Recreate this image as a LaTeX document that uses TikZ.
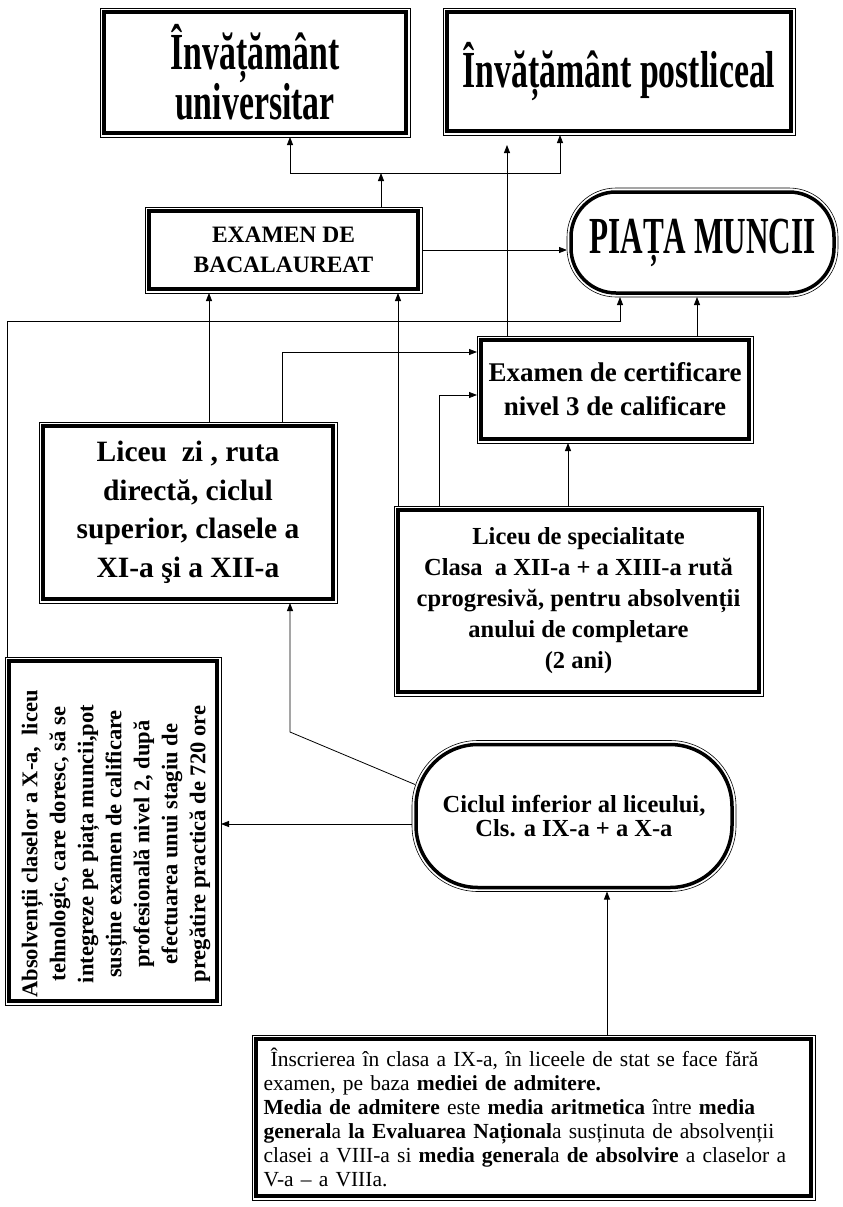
\documentclass[tikz,border=0pt]{standalone}
\usepackage{fontspec}
\setmainfont{Liberation Serif}
\newfontfamily\titlefont{Liberation Serif}[FakeStretch=0.65]
\newfontfamily\piatafont{Liberation Serif}[FakeStretch=0.6]
\usetikzlibrary{arrows.meta}

\begin{document}
\begin{tikzpicture}[x=1pt,y=-1pt,
    box/.style={draw,line width=3.5pt,inner sep=0pt,outer sep=4pt,align=center},
    frame/.style={line width=0.6pt},
    arr/.style={line width=0.8pt,-{Triangle[length=8pt,width=6pt]}}]
  \useasboundingbox (0,0) rectangle (843,1207);
  %% top row
  \node[box,minimum width=302,minimum height=121,font=\titlefont\bfseries\fontsize{52}{41}\selectfont] (univ) at (255,72.5) {Învățământ\\universitar};
  \node[box,minimum width=344,minimum height=119,font=\titlefont\bfseries\fontsize{52}{41}\selectfont] (postl) at (619,71.5) {Învățământ postliceal};
  %% exams
  \node[box,minimum width=269,minimum height=78,font=\bfseries\fontsize{23.5}{30}\selectfont] (bac) at (283.5,250) {EXAMEN DE\\BACALAUREAT};
  \node[box,rounded corners=45pt,minimum width=263,minimum height=101,font=\piatafont\bfseries\fontsize{52}{52}\selectfont] (piata) at (702.5,242.5) {PIAȚA MUNCII};
  \node[box,minimum width=268,minimum height=99,font=\bfseries\fontsize{27}{34}\selectfont] (cert) at (615,389.5) {Examen de certificare\\nivel 3 de calificare};
  %% licee
  \node[box,minimum width=290,minimum height=173,font=\bfseries\fontsize{29.5}{38.5}\selectfont] (lzi) at (188,512.5) {Liceu\ \ zi , ruta\\directă, ciclul\\superior, clasele a\\XI-a şi a XII-a};
  \node[box,minimum width=361,minimum height=182,font=\bfseries\fontsize{24.5}{31}\selectfont] (lspec) at (578.5,601) {Liceu de specialitate\\Clasa\ \ a XII-a + a XIII-a rută\\cprogresivă, pentru absolvenții\\anului de completare\\(2 ani)};
  %% absolventi X
  \node[box,rotate=90,minimum width=340,minimum height=208] (absolv) at (113,831) {};
  \node[rotate=90,align=center,inner sep=0pt,font=\bfseries\fontsize{22.5}{28}\selectfont] (absolvtxt) at (116,844) {Absolvenții claselor a X-a,\ \ liceu\\tehnologic, care doresc, să se\\integreze pe piața muncii,pot\\susține examen de calificare\\profesională nivel 2, după\\efectuarea unui stagiu de\\pregătire practică de 720 ore};
  \node[box,rounded corners=62pt,minimum width=316,minimum height=143,font=\bfseries\fontsize{24.5}{23.5}\selectfont] (ciclul) at (574,816) {Ciclul inferior al liceului,\\Cls. a IX-a + a X-a};
  \node[box,minimum width=555,minimum height=157,text width=540,align=left,font=\fontsize{21.5}{24}\selectfont] (inscr) at (533.5,1117.5) {\ Înscrierea în clasa a IX-a, în liceele de stat se face fără\\examen, pe baza \textbf{mediei de admitere.}\\\textbf{Media de admitere} este \textbf{media aritmetica} între \textbf{media}\\\textbf{general}a \textbf{la Evaluarea Național}a susținuta de absolvenții\\clasei a VIII-a si \textbf{media general}a \textbf{de absolvire} a claselor a\\V-a -- a VIIIa.};
  %% outer thin frames
  \foreach \n in {univ,postl,bac,cert,lzi,lspec,absolv,inscr}
    \draw[frame] (\n.north west) rectangle (\n.south east);
  \draw[frame,rounded corners=49pt] (piata.north west) rectangle (piata.south east);
  \draw[frame,rounded corners=66pt] (ciclul.north west) rectangle (ciclul.south east);
  %% connectors
  \coordinate (jt) at (381,173);
  \draw[arr] (bac.north -| jt) -- (jt);
  \draw[arr] (jt) -| ([xshift=35pt]univ.south);
  \draw[arr] (jt) -| ([xshift=-59pt]postl.south);
  \draw[arr,shorten >=10pt] ([xshift=-108pt]cert.north) -- ([xshift=-108pt]cert.north |- postl.south);
  \draw[arr] ([xshift=82pt]cert.north) -- ([xshift=82pt]cert.north |- piata.south);
  \draw[arr] (bac.east) -- (bac.east -| piata.west);
  \draw[arr] ([xshift=2pt]absolv.north east) |- ([xshift=-82.5pt,yshift=-24pt]piata.south) -- ([xshift=-82.5pt]piata.south);
  \draw[arr] ([xshift=21pt]lzi.north) -- ([xshift=21pt]lzi.north |- bac.south);
  \draw[arr] ([xshift=4pt]lspec.north west) -- ([xshift=4pt]lspec.north west |- bac.south);
  \draw[arr] ([xshift=94pt]lzi.north) |- ([yshift=37.5pt]cert.west);
  \draw[arr] ([xshift=45pt]lspec.north west) |- ([yshift=-5.5pt]cert.west);
  \draw[arr] ([xshift=-10.5pt]lspec.north) -- ([xshift=-10.5pt]lspec.north |- cert.south);
  \coordinate (ybend) at (0,732);
  \draw[arr] ([shift={(3pt,-44pt)}]ciclul.north west) -- ([xshift=102pt]lzi.south |- ybend) -- ([xshift=102pt]lzi.south);
  \draw[arr] ([yshift=-8pt]ciclul.west) -- ([yshift=-8pt]ciclul.west -| absolv.south);
  \draw[arr] ([xshift=73.5pt]inscr.north) -- ([xshift=73.5pt]inscr.north |- ciclul.south);
\end{tikzpicture}
\end{document}
